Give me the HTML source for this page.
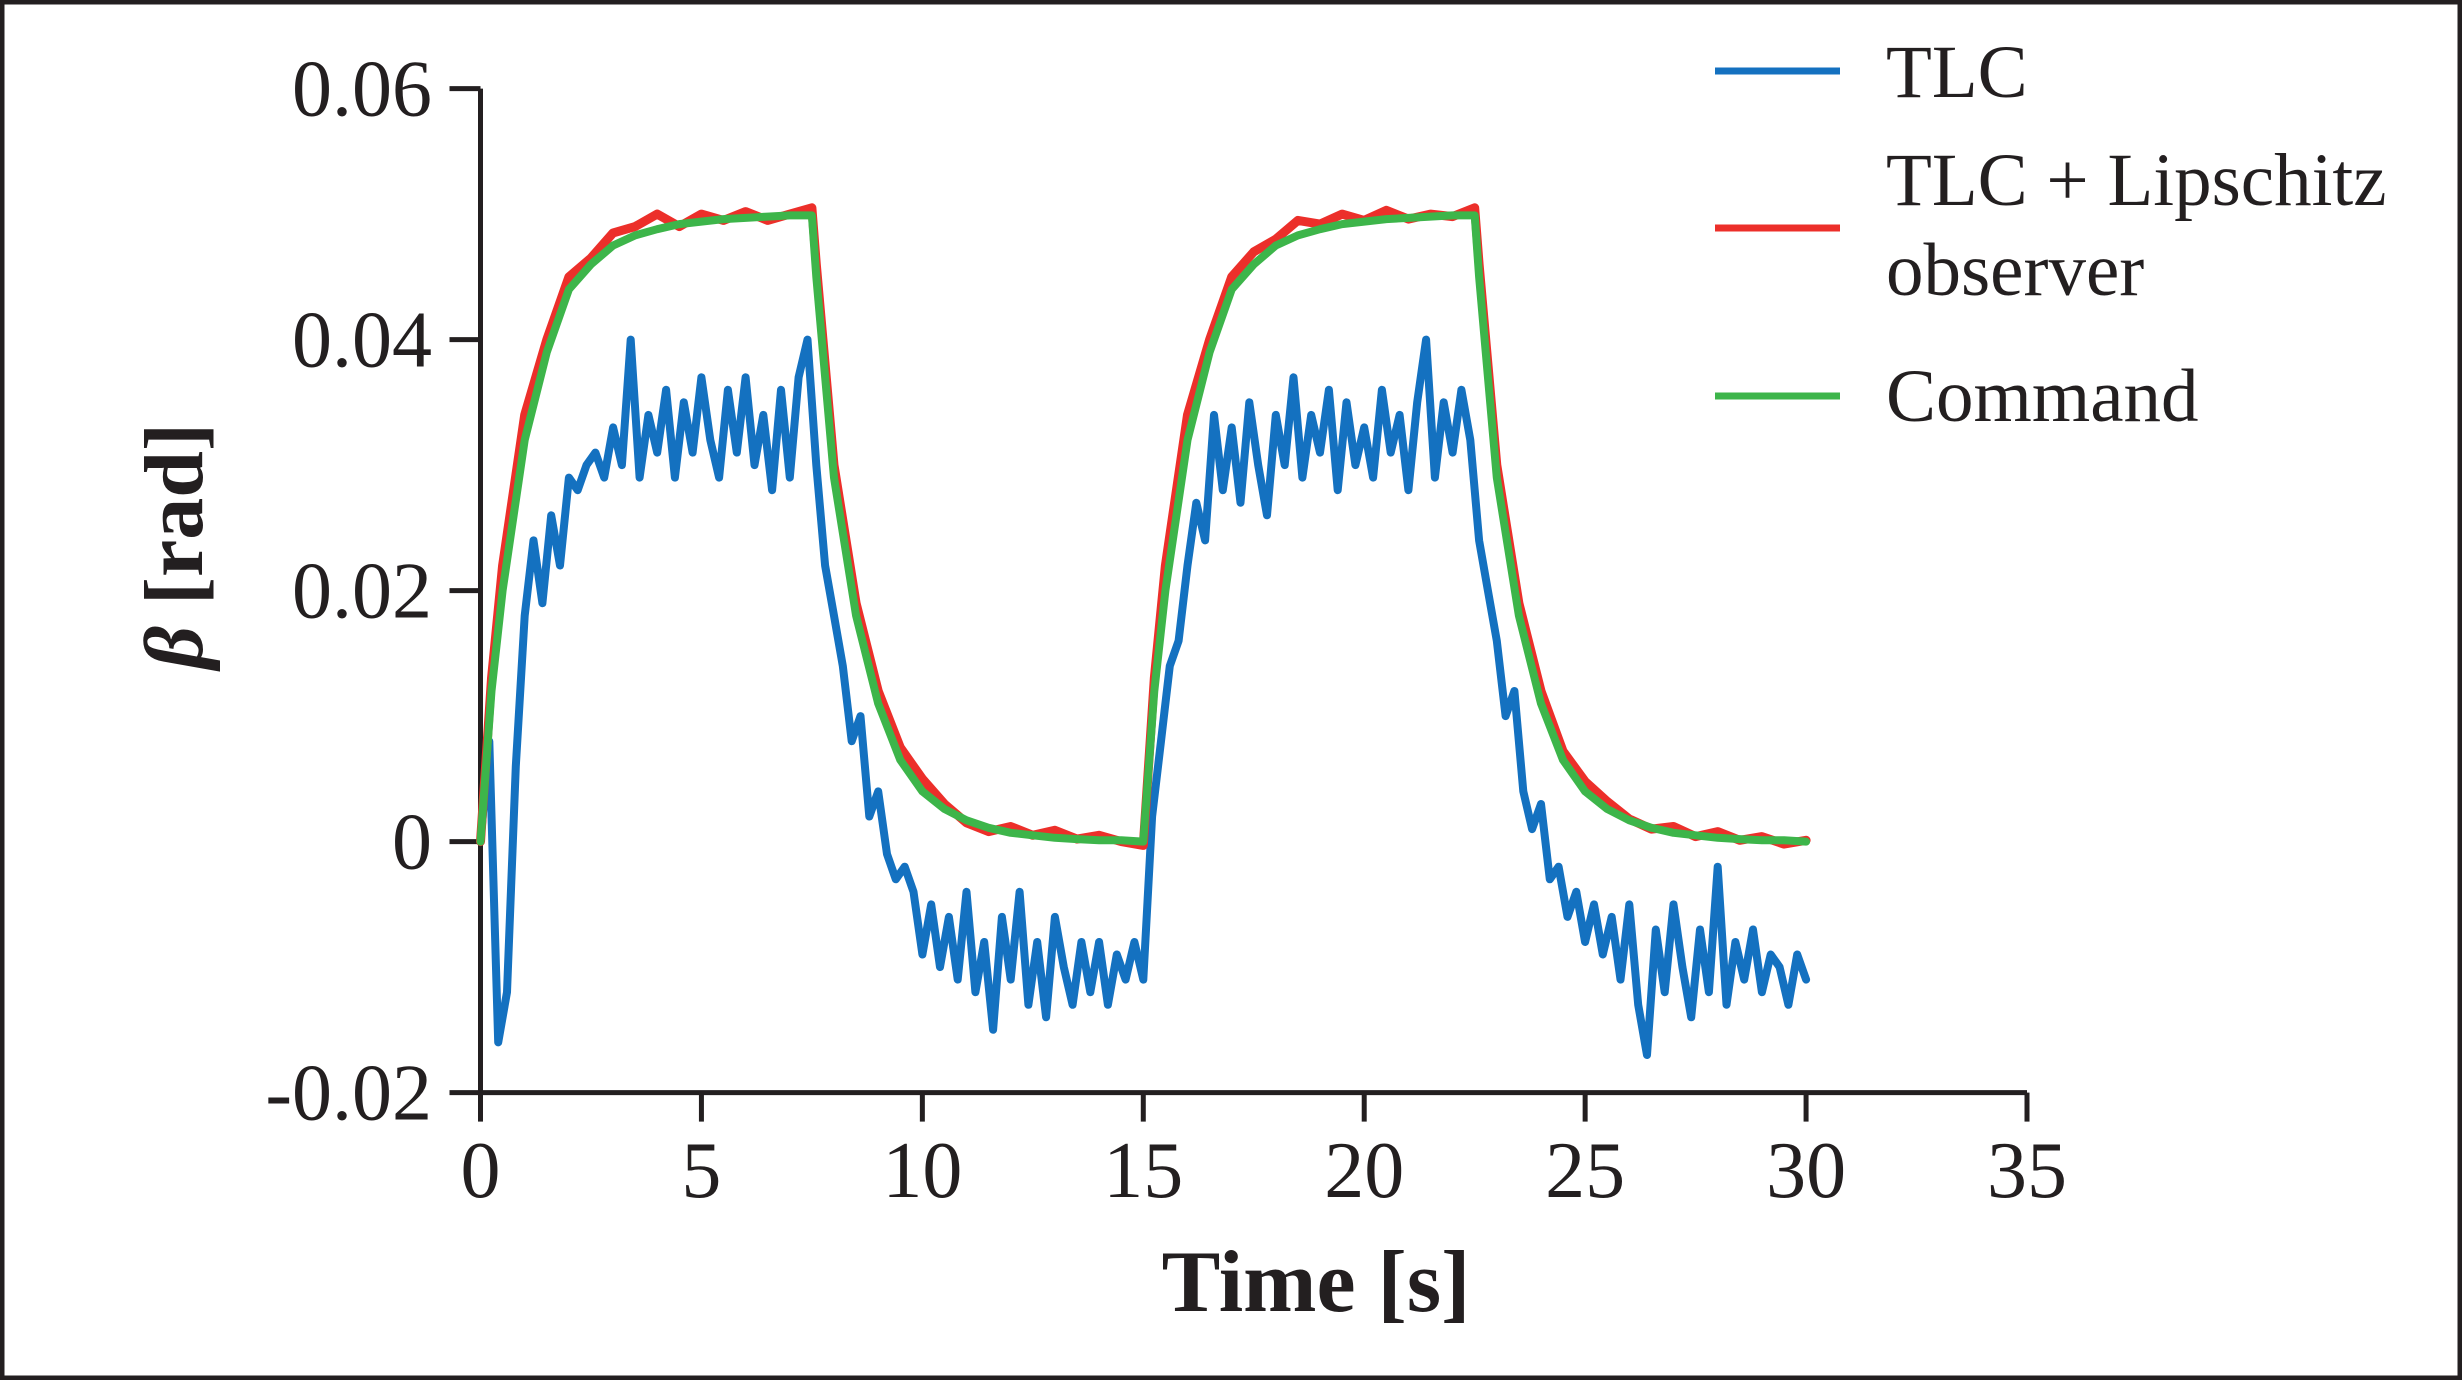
<!DOCTYPE html>
<html><head><meta charset="utf-8">
<style>
html,body{margin:0;padding:0;background:#fff;}
svg{display:block;}
text{font-family:"Liberation Serif",serif;fill:#231f20;}
</style></head>
<body>
<svg id="chart" width="2462" height="1380" viewBox="0 0 2462 1380" xmlns="http://www.w3.org/2000/svg">
<rect x="2" y="2" width="2458" height="1376" fill="#fff" stroke="#231f20" stroke-width="5"/>
<g id="axes"></g>
<g id="series"></g>
<g id="legend"></g>
<text x="1316" y="1311" font-size="88" font-weight="bold" text-anchor="middle">Time [s]</text>
<text transform="translate(202,546) rotate(-90)" font-size="84" font-weight="bold" text-anchor="middle"><tspan font-style="italic">β</tspan> [rad]</text>
</svg>
<script>
const xTicks = [0,5,10,15,20,25,30,35];
const yTicks = [0.06,0.04,0.02,0,-0.02];
const yTickLabels = ["0.06","0.04","0.02","0","-0.02"];

const blueTime = [0,0.2,0.4,0.6,0.8,1,1.2,1.4,1.6,1.8,2,2.2,2.4,2.6,2.8,3,3.2,3.4,3.6,3.8,4,4.2,4.4,4.6,4.8,5,5.2,5.4,5.6,5.8,6,6.2,6.4,6.6,6.8,7,7.2,7.4,7.6,7.8,8,8.2,8.4,8.6,8.8,9,9.2,9.4,9.6,9.8,10,10.2,10.4,10.6,10.8,11,11.2,11.4,11.6,11.8,12,12.2,12.4,12.6,12.8,13,13.2,13.4,13.6,13.8,14,14.2,14.4,14.6,14.8,15,15.2,15.4,15.6,15.8,16,16.2,16.4,16.6,16.8,17,17.2,17.4,17.6,17.8,18,18.2,18.4,18.6,18.8,19,19.2,19.4,19.6,19.8,20,20.2,20.4,20.6,20.8,21,21.2,21.4,21.6,21.8,22,22.2,22.4,22.6,22.8,23,23.2,23.4,23.6,23.8,24,24.2,24.4,24.6,24.8,25,25.2,25.4,25.6,25.8,26,26.2,26.4,26.6,26.8,27,27.2,27.4,27.6,27.8,28,28.2,28.4,28.6,28.8,29,29.2,29.4,29.6,29.8,30];
const blueValues = [0,0.008,-0.016,-0.012,0.006,0.018,0.024,0.019,0.026,0.022,0.029,0.028,0.030,0.031,0.029,0.033,0.030,0.040,0.029,0.034,0.031,0.036,0.029,0.035,0.031,0.037,0.032,0.029,0.036,0.031,0.037,0.030,0.034,0.028,0.036,0.029,0.037,0.040,0.030,0.022,0.018,0.014,0.008,0.010,0.002,0.004,-0.001,-0.003,-0.002,-0.004,-0.009,-0.005,-0.010,-0.006,-0.011,-0.004,-0.012,-0.008,-0.015,-0.006,-0.011,-0.004,-0.013,-0.008,-0.014,-0.006,-0.010,-0.013,-0.008,-0.012,-0.008,-0.013,-0.009,-0.011,-0.008,-0.011,0.002,0.008,0.014,0.016,0.022,0.027,0.024,0.034,0.028,0.033,0.027,0.035,0.030,0.026,0.034,0.030,0.037,0.029,0.034,0.031,0.036,0.028,0.035,0.030,0.033,0.029,0.036,0.031,0.034,0.028,0.035,0.040,0.029,0.035,0.031,0.036,0.032,0.024,0.020,0.016,0.010,0.012,0.004,0.001,0.003,-0.003,-0.002,-0.006,-0.004,-0.008,-0.005,-0.009,-0.006,-0.011,-0.005,-0.013,-0.017,-0.007,-0.012,-0.005,-0.010,-0.014,-0.007,-0.012,-0.002,-0.013,-0.008,-0.011,-0.007,-0.012,-0.009,-0.010,-0.013,-0.009,-0.011];

const cmdTime = [0,0.25,0.5,1,1.5,2,2.5,3,3.5,4,4.5,5,5.5,6,6.5,7,7.5,7.6,8,8.5,9,9.5,10,10.5,11,11.5,12,12.5,13,13.5,14,14.5,15,15.25,15.5,16,16.5,17,17.5,18,18.5,19,19.5,20,20.5,21,21.5,22,22.5,22.6,23,23.5,24,24.5,25,25.5,26,26.5,27,27.5,28,28.5,29,29.5,30];
const commandValues = [0,0.012,0.020,0.032,0.039,0.044,0.046,0.0475,0.0483,0.0488,0.0492,0.0494,0.0496,0.0497,0.0498,0.0499,0.0499,0.045,0.029,0.018,0.011,0.0065,0.004,0.0026,0.0017,0.0011,0.0007,0.0005,0.0003,0.0002,0.0001,0.0001,0,0.012,0.020,0.032,0.039,0.044,0.046,0.0475,0.0483,0.0488,0.0492,0.0494,0.0496,0.0497,0.0498,0.0499,0.0499,0.045,0.029,0.018,0.011,0.0065,0.004,0.0026,0.0017,0.0011,0.0007,0.0005,0.0003,0.0002,0.0001,0.0001,0];
const observerValues = [0,0.013,0.022,0.034,0.040,0.045,0.0465,0.0485,0.0490,0.0500,0.0490,0.0500,0.0495,0.0502,0.0495,0.0500,0.0505,0.046,0.030,0.019,0.012,0.0075,0.005,0.0030,0.0015,0.0008,0.0012,0.0005,0.0009,0.0002,0.0005,0,-0.0003,0.013,0.022,0.034,0.040,0.045,0.0470,0.0480,0.0495,0.0492,0.0500,0.0495,0.0503,0.0496,0.0500,0.0498,0.0505,0.046,0.030,0.019,0.012,0.0072,0.0048,0.0032,0.0018,0.0010,0.0012,0.0004,0.0008,0.0001,0.0004,-0.0002,0.0001];

const X0 = 480.5, XS = 1546.5/35, Y0 = 841.6, YS = 12550;
function xs(t){ return X0 + t*XS; }
function ys(v){ return Y0 - v*YS; }
const NS = "http://www.w3.org/2000/svg";
function mk(tag, attrs, parent){ const e = document.createElementNS(NS, tag); for (const k in attrs) e.setAttribute(k, attrs[k]); parent.appendChild(e); return e; }

const axes = document.getElementById('axes');
const ax = mk('path', {d:`M${xs(0)},${ys(0.06)} L${xs(0)},${ys(-0.02)} L${xs(35)},${ys(-0.02)}`, fill:'none', stroke:'#231f20', 'stroke-width':5}, axes);


yTicks.forEach((v,i)=>{
  const tk = mk('line', {x1:xs(0)-31, x2:xs(0), y1:ys(v), y2:ys(v), stroke:'#231f20', 'stroke-width':5}, axes);
  
  
  const tl = mk('text', {x:432, y:ys(v)+27, 'font-size':80, 'text-anchor':'end'}, axes);
  tl.textContent = yTickLabels[i];
  
  
});
xTicks.forEach(t=>{
  const tk = mk('line', {x1:xs(t), x2:xs(t), y1:ys(-0.02), y2:ys(-0.02)+29, stroke:'#231f20', 'stroke-width':5}, axes);
  
  
  const tl = mk('text', {x:xs(t), y:1197, 'font-size':80, 'text-anchor':'middle'}, axes);
  tl.textContent = String(t);
  
  
});

const series = document.getElementById('series');
function line(ts, vs, color, name, w){
  const d = ts.map((t,i)=>(i?'L':'M')+xs(t).toFixed(1)+','+ys(vs[i]).toFixed(1)).join(' ');
  const p = mk('path', {d:d, fill:'none', stroke:color, 'stroke-width':w, 'stroke-linejoin':'round', 'stroke-linecap':'round'}, series);
  
  
}
line(blueTime, blueValues, '#1471c0', 'tlc-line', 8);
line(cmdTime, observerValues, '#ec2f2a', 'tlc-lipschitz-line', 9);
line(cmdTime, commandValues, '#3db54a', 'command-line', 8);

const legend = document.getElementById('legend');
const entries = [
  {c:'#1471c0', y:71, lines:['TLC'], ty:[97]},
  {c:'#ec2f2a', y:228, lines:['TLC + Lipschitz','observer'], ty:[205,295]},
  {c:'#3db54a', y:396, lines:['Command'], ty:[421]}
];
entries.forEach(e=>{
  const g = mk('g', {}, legend);
  
  
  const l = mk('line', {x1:1715, x2:1840, y1:e.y, y2:e.y, stroke:e.c, 'stroke-width':7}, g);
  
  
  e.lines.forEach((s,i)=>{
    const t = mk('text', {x:1886, y:e.ty[i], 'font-size':75}, g);
    t.textContent = s;
    
    
  });
});
</script>
</body></html>
